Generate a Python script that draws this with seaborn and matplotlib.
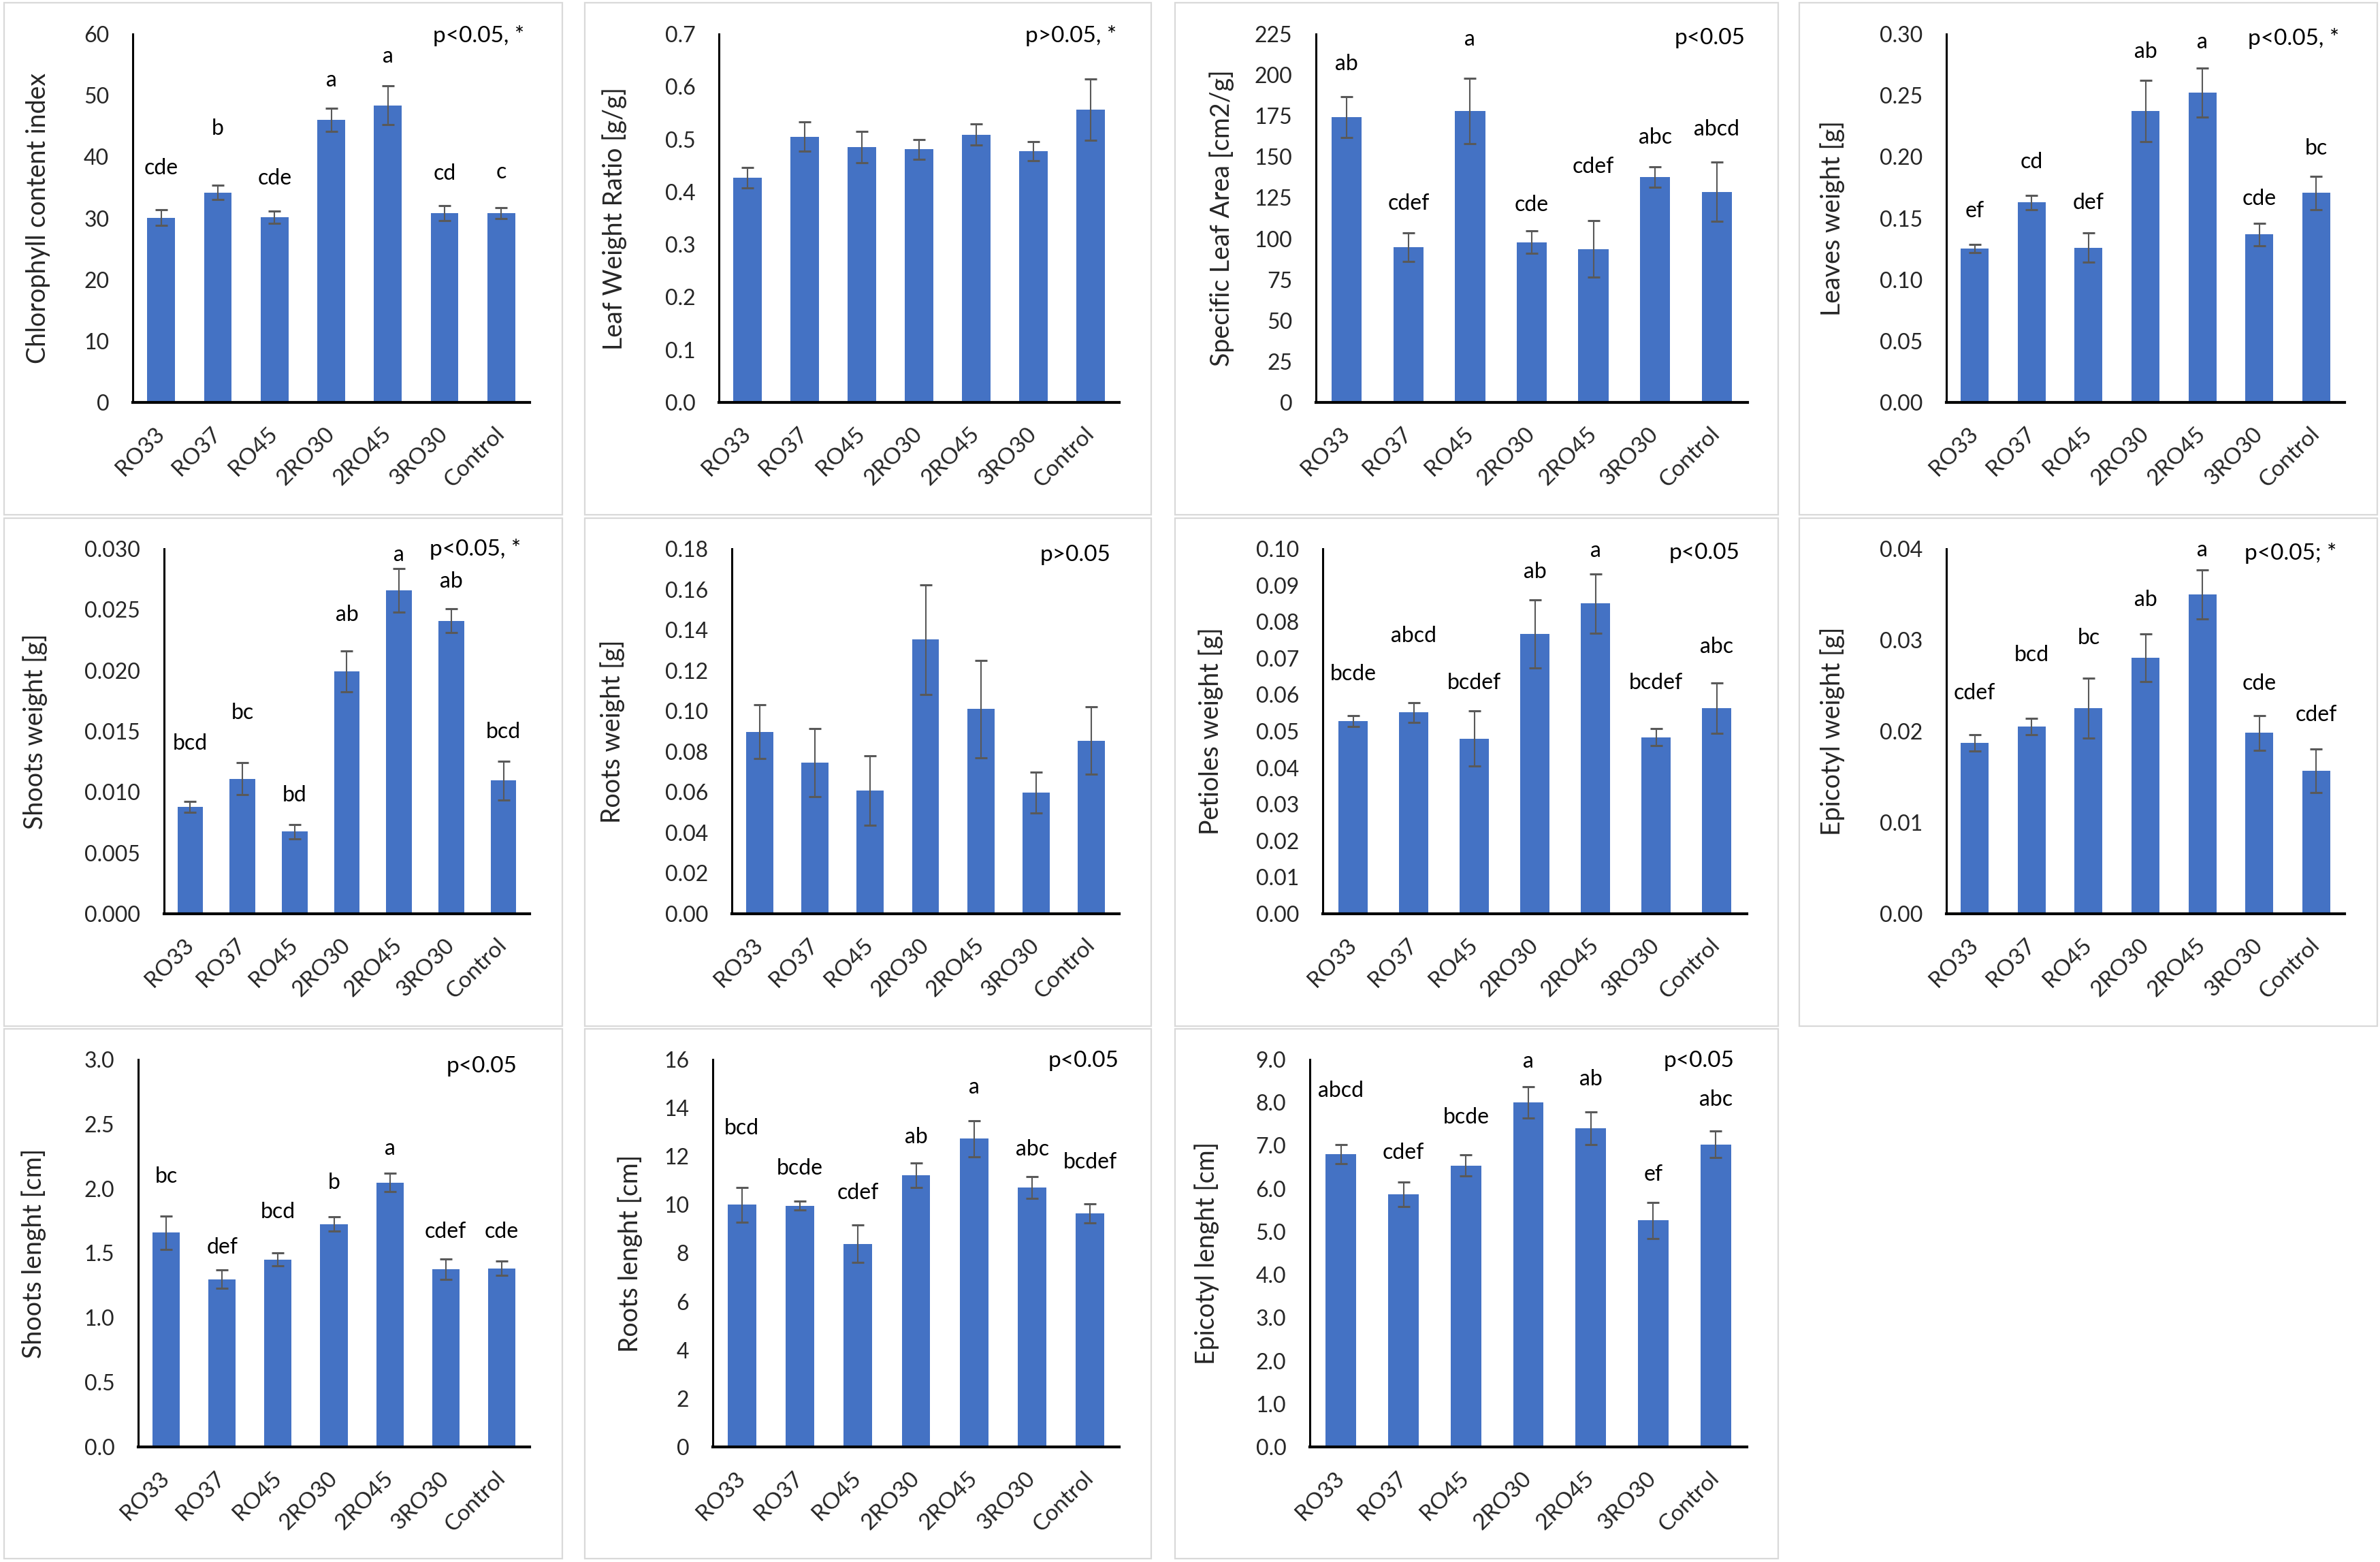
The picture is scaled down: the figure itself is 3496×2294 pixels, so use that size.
import matplotlib
matplotlib.use('Agg')
import numpy as np
import pandas as pd
import matplotlib.pyplot as plt
import seaborn as sns
from matplotlib.patches import Rectangle
from matplotlib.ticker import FormatStrFormatter

sns.set_style('white')
plt.rcParams['font.family'] = ['Lato', 'DejaVu Sans']

# ---- data ----
treatments = ['RO33', 'RO37', 'RO45', '2RO30', '2RO45', '3RO30', 'Control']

chlorophyll = [30.1, 34.2, 30.2, 46.0, 48.4, 30.8, 30.8]
chlorophyll_err = [1.3, 1.2, 1.0, 1.9, 3.2, 1.2, 0.9]
chlorophyll_letters = ['cde', 'b', 'cde', 'a', 'a', 'cd', 'c']
chlorophyll_lab_y = [38.1, 44.6, 36.5, 52.5, 56.3, 37.3, 37.5]

lwr = [0.427, 0.505, 0.485, 0.481, 0.509, 0.477, 0.556]
lwr_err = [0.020, 0.028, 0.030, 0.019, 0.020, 0.018, 0.058]

sla = [174.3, 94.9, 178.1, 97.9, 93.7, 137.6, 128.7]
sla_err = [12.5, 8.7, 20.0, 6.9, 17.3, 6.2, 18.0]
sla_letters = ['ab', 'cdef', 'a', 'cde', 'cdef', 'abc', 'abcd']
sla_lab_y = [206.5, 121.5, 221.6, 120.5, 144.0, 161.6, 166.6]

leaves_w = [0.1254, 0.1628, 0.1260, 0.2374, 0.2522, 0.1367, 0.1706]
leaves_w_err = [0.0033, 0.006, 0.012, 0.025, 0.020, 0.009, 0.0134]
leaves_w_letters = ['ef', 'cd', 'def', 'ab', 'a', 'cde', 'bc']
leaves_w_lab_y = [0.156, 0.1955, 0.1625, 0.2855, 0.2933, 0.1657, 0.2068]

shoots_w = [0.00878, 0.01111, 0.00675, 0.01992, 0.02659, 0.02409, 0.01095]
shoots_w_err = [0.00046, 0.0013, 0.0006, 0.0017, 0.0018, 0.0010, 0.0016]
shoots_w_letters = ['bcd', 'bc', 'bd', 'ab', 'a', 'ab', 'bcd']
shoots_w_lab_y = [0.0140, 0.01653, 0.00976, 0.02455, 0.02951, 0.02732, 0.01496]

roots_w = [0.0898, 0.0745, 0.0608, 0.1353, 0.1010, 0.0598, 0.0854]
roots_w_err = [0.0133, 0.0167, 0.0170, 0.0270, 0.0240, 0.0100, 0.0166]

petioles_w = [0.0528, 0.0552, 0.0480, 0.0767, 0.0850, 0.0484, 0.0563]
petioles_w_err = [0.0015, 0.0027, 0.0076, 0.0094, 0.0081, 0.0023, 0.0069]
petioles_w_letters = ['bcde', 'abcd', 'bcdef', 'ab', 'a', 'bcdef', 'abc']
petioles_w_lab_y = [0.0657, 0.0761, 0.0632, 0.0937, 0.0995, 0.0632, 0.0731]

epicotyl_w = [0.01875, 0.02052, 0.02255, 0.02804, 0.03501, 0.01984, 0.01568]
epicotyl_w_err = [0.0009, 0.0009, 0.0033, 0.0026, 0.0027, 0.0019, 0.0024]
epicotyl_w_letters = ['cdef', 'bcd', 'bc', 'ab', 'a', 'cde', 'cdef']
epicotyl_w_lab_y = [0.02417, 0.02836, 0.03024, 0.0344, 0.03982, 0.02519, 0.02182]

shoots_l = [1.659, 1.299, 1.451, 1.725, 2.048, 1.376, 1.384]
shoots_l_err = [0.128, 0.072, 0.050, 0.056, 0.072, 0.077, 0.053]
shoots_l_letters = ['bc', 'def', 'bcd', 'b', 'a', 'cdef', 'cde']
shoots_l_lab_y = [2.093, 1.547, 1.821, 2.045, 2.307, 1.667, 1.667]

roots_l = [10.0, 9.96, 8.39, 11.22, 12.73, 10.71, 9.64]
roots_l_err = [0.72, 0.18, 0.78, 0.50, 0.75, 0.45, 0.39]
roots_l_letters = ['bcd', 'bcde', 'cdef', 'ab', 'a', 'abc', 'bcdef']
roots_l_lab_y = [13.16, 11.49, 10.5, 12.8, 14.86, 12.3, 11.76]

epicotyl_l = [6.80, 5.87, 6.54, 8.00, 7.40, 5.26, 7.03]
epicotyl_l_err = [0.22, 0.28, 0.24, 0.36, 0.38, 0.42, 0.31]
epicotyl_l_letters = ['abcd', 'cdef', 'bcde', 'a', 'ab', 'ef', 'abc']
epicotyl_l_lab_y = [8.28, 6.84, 7.66, 8.96, 8.54, 6.32, 8.06]

# ---- panel definitions: (ylabel, values, errors, letters, letter y, p text, ymax, step, decimals)
panels = [
    ('Chlorophyll content index', chlorophyll, chlorophyll_err, chlorophyll_letters, chlorophyll_lab_y, 'p<0.05, *', 60, 10, 0),
    ('Leaf Weight Ratio [g/g]', lwr, lwr_err, None, None, 'p>0.05, *', 0.7, 0.1, 1),
    ('Specific Leaf Area [cm2/g]', sla, sla_err, sla_letters, sla_lab_y, 'p<0.05', 225, 25, 0),
    ('Leaves weight [g]', leaves_w, leaves_w_err, leaves_w_letters, leaves_w_lab_y, 'p<0.05, *', 0.30, 0.05, 2),
    ('Shoots weight [g]', shoots_w, shoots_w_err, shoots_w_letters, shoots_w_lab_y, 'p<0.05, *', 0.030, 0.005, 3),
    ('Roots weight [g]', roots_w, roots_w_err, None, None, 'p>0.05', 0.18, 0.02, 2),
    ('Petioles weight [g]', petioles_w, petioles_w_err, petioles_w_letters, petioles_w_lab_y, 'p<0.05', 0.10, 0.01, 2),
    ('Epicotyl weight [g]', epicotyl_w, epicotyl_w_err, epicotyl_w_letters, epicotyl_w_lab_y, 'p<0.05; *', 0.04, 0.01, 2),
    ('Shoots lenght [cm]', shoots_l, shoots_l_err, shoots_l_letters, shoots_l_lab_y, 'p<0.05', 3.0, 0.5, 1),
    ('Roots lenght [cm]', roots_l, roots_l_err, roots_l_letters, roots_l_lab_y, 'p<0.05', 16, 2, 0),
    ('Epicotyl lenght [cm]', epicotyl_l, epicotyl_l_err, epicotyl_l_letters, epicotyl_l_lab_y, 'p<0.05', 9.0, 1.0, 1),
]

# ---- layout in pixels (figure is 3496 x 2294) ----
W, H = 3496, 2294
box_cols = [(6, 826), (859, 1691), (1726, 2612), (2643, 3492)]
box_rows = [(4, 756), (761, 1507), (1511, 2289)]
axes_x = [(195, 778), (1056, 1644), (1933, 2567), (2859, 3444),
          (241, 778), (1075, 1644), (1943, 2566), (2859, 3444),
          (203, 778), (1047, 1644), (1924, 2566)]
axes_rows = [(50, 591), (806, 1342), (1556, 2125)]
ylabel_x = [56, 903, 1795, 2692, 52, 900, 1779, 2692, 50, 926, 1773]
ptext_x = [770, 1640, 2564, 3436, 765, 1632, 2555, 3432, 759, 1644, 2547]
ptext_y = [53, 53, 56, 56, 806, 815, 812, 813, 1566, 1558, 1558]

BLUE = '#4472C4'
ERR = '#595959'
FS_YTICK = 23
FS_XTICK = 24
FS_YLABEL = 27
FS_LETTER = 23
FS_P = 24

fig = plt.figure(figsize=(W / 100, H / 100), dpi=100)

# chart borders like the Excel chart areas
for i in range(len(panels)):
    r, c = divmod(i, 4)
    x0, x1 = box_cols[c]
    y0, y1 = box_rows[r]
    fig.patches.append(Rectangle((x0 / W, 1 - y1 / H), (x1 - x0) / W, (y1 - y0) / H,
                                 transform=fig.transFigure, fill=False,
                                 edgecolor='#d9d9d9', linewidth=1.6))

for i, (ylab, vals, errs, letters, lab_y, ptxt, ymax, step, dec) in enumerate(panels):
    r = i // 4
    ax_l, ax_r = axes_x[i]
    ax_t, ax_b = axes_rows[r]
    ax = fig.add_axes([ax_l / W, 1 - ax_b / H, (ax_r - ax_l) / W, (ax_b - ax_t) / H])

    df = pd.DataFrame({'treatment': treatments, 'value': vals, 'err': errs})
    sns.barplot(data=df, x='treatment', y='value', color=BLUE, saturation=1,
                width=0.49, linewidth=0, errorbar=None, ax=ax)
    ax.errorbar(np.arange(len(treatments)), df['value'], yerr=df['err'], fmt='none',
                ecolor=ERR, elinewidth=1.5, capsize=6.5, capthick=2.2, zorder=3)

    if letters is not None:
        for j, (lt, ly) in enumerate(zip(letters, lab_y)):
            ax.text(j, ly, lt, ha='center', va='center', fontsize=FS_LETTER, color='black')

    ax.set_xlim(-0.5, len(treatments) - 0.5)
    ax.set_ylim(0, ymax)
    ax.set_yticks(np.arange(0, ymax + step / 2, step))
    ax.yaxis.set_major_formatter(FormatStrFormatter('%%.%df' % dec))

    ax.tick_params(axis='y', length=0, pad=25, labelsize=FS_YTICK)
    ax.tick_params(axis='x', length=0, pad=30, labelsize=FS_XTICK)
    for lab in ax.get_xticklabels():
        lab.set_rotation(45)
        lab.set_ha('right')
        lab.set_va('center')
        lab.set_rotation_mode('anchor')

    for s in ['top', 'right']:
        ax.spines[s].set_visible(False)
    ax.spines['left'].set_color('black')
    ax.spines['left'].set_linewidth(2.2)
    ax.spines['bottom'].set_color('black')
    ax.spines['bottom'].set_linewidth(3.0)
    ax.set_xlabel('')
    ax.set_ylabel(ylab, fontsize=FS_YLABEL, va='center')
    ax.yaxis.set_label_coords(ylabel_x[i] / W, 1 - (ax_t + ax_b) / 2 / H,
                              transform=fig.transFigure)

    fig.text(ptext_x[i] / W, 1 - ptext_y[i] / H, ptxt, ha='right', va='center',
             fontsize=FS_P, color='black')

fig.savefig('out.png', dpi=100, facecolor='white')
